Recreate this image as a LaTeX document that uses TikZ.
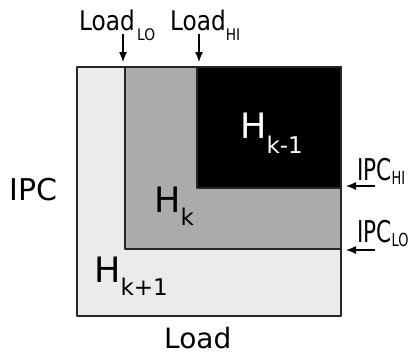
\documentclass[tikz,border=0pt]{standalone}
\usepackage{fontspec}
\setmainfont{DejaVu Sans}
\usetikzlibrary{arrows.meta}
\definecolor{lightfill}{HTML}{EBEBEB}
\definecolor{midfill}{HTML}{ABABAB}
\definecolor{edge}{HTML}{262626}
\tikzset{
  every picture/.style={
    line join=round,
    >={Latex[length=10pt,width=8pt]},   % one arrow tip everywhere
  },
  region/.style={draw=edge, line width=1.3pt},
  lbl/.style={inner sep=0pt, anchor=base west},
  marker/.style={->, line width=1.3pt},
}
% text with a lowered, smaller index
\newcommand{\lowidx}[4]{#1\raisebox{-#4pt}{\fontsize{#3}{#3}\selectfont #2}}

\begin{document}
\begin{tikzpicture}[x=1pt, y=-1pt]
\useasboundingbox (0,0) rectangle (417,354);
% nested regions
\fill[lightfill] (77,67) rectangle (341,316);
\draw[region, fill=midfill] (125,67) rectangle (341,249);
\draw[region, fill=black] (197,67) rectangle (341,188);
\draw[region] (77,67) rectangle (341,316);

\node[lbl, text=white, font=\fontsize{35}{35}\selectfont] (hkm) at (240,138) {\lowidx{H}{k-1}{23}{15}};
\node[lbl, font=\fontsize{35}{35}\selectfont] (hk) at (154,212) {\lowidx{H}{k}{23}{13}};
\node[lbl, font=\fontsize{35}{35}\selectfont] (hkp) at (94,282) {\lowidx{H}{k+1}{23}{13}};

% axis names
\node[lbl, font=\fontsize{30}{30}\selectfont] (ipc) at (9,200) {IPC};
\node[lbl, font=\fontsize{28}{28}\selectfont] (load) at (164,348) {Load};

% thresholds
\node[lbl, xscale=0.86, font=\fontsize{27}{27}\selectfont] (loadlo) at (79,30) {\lowidx{Load}{\,LO}{16}{10}};
\node[lbl, xscale=0.86, font=\fontsize{27}{27}\selectfont] (loadhi) at (170,30) {\lowidx{Load}{HI}{16}{10}};
\node[lbl, xscale=0.72, font=\fontsize{30}{30}\selectfont] (ipchi) at (357,180) {\lowidx{IPC}{HI}{18}{4}};
\node[lbl, xscale=0.72, font=\fontsize{30}{30}\selectfont] (ipclo) at (357,242) {\lowidx{IPC}{LO}{18}{4}};

\coordinate (loedge) at (123,67);
\coordinate (hiedge) at (199,67);
\coordinate (ipchiedge) at (341,186);
\coordinate (ipcloedge) at (341,250);
\draw[marker] ([yshift=33pt]loedge) -- ([yshift=5pt]loedge);
\draw[marker] ([yshift=33pt]hiedge) -- ([yshift=5pt]hiedge);
\draw[marker] ([xshift=34pt]ipchiedge) -- ([xshift=5pt]ipchiedge);
\draw[marker] ([xshift=34pt]ipcloedge) -- ([xshift=5pt]ipcloedge);
\end{tikzpicture}
\end{document}
